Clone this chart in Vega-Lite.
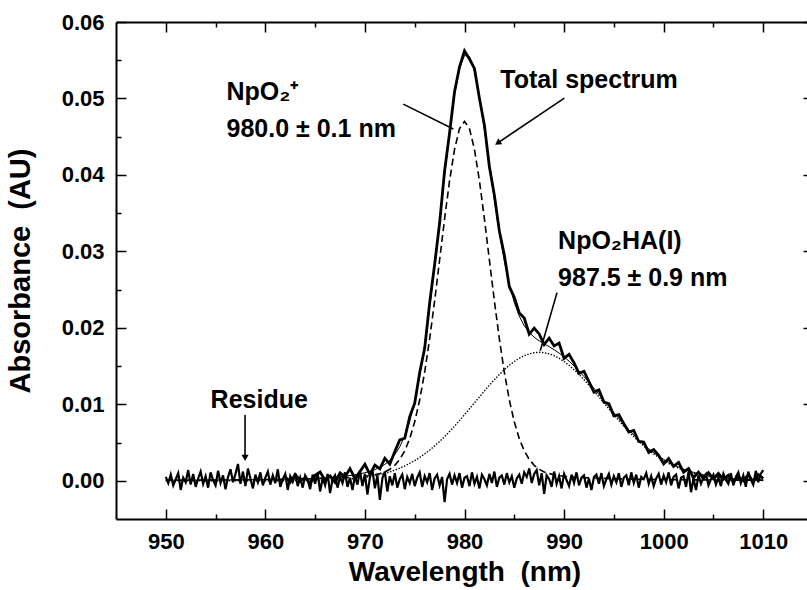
{
  "$schema": "https://vega.github.io/schema/vega-lite/v6.json",
  "width": 697,
  "height": 497,
  "autosize": "none",
  "padding": {"left": 116, "top": 22, "right": 0, "bottom": 71},
  "background": "white",
  "config": {
    "view": {"stroke": null},
    "axis": {
      "domainColor": "black", "domainWidth": 2, "tickColor": "black", "tickWidth": 1.5,
      "labelFont": "Liberation Sans", "labelFontSize": 22, "labelFontWeight": "bold", "labelColor": "black",
      "titleFont": "Liberation Sans", "titleFontSize": 28, "titleFontWeight": "bold", "titleColor": "black",
      "grid": false, "labelOverlap": false, "labelFlush": false, "labelBound": false
    }
  },
  "datasets": {
    "res": [
      {"w":950,"v":0.0005},{"w":950.25,"v":-0.0003},{"w":950.5,"v":0.0008},{"w":950.75,"v":-0.0006},
      {"w":951,"v":0.0002},{"w":951.25,"v":0.001},{"w":951.5,"v":-0.0012},{"w":951.75,"v":0.0004},
      {"w":952,"v":-0.0002},{"w":952.25,"v":0.0014},{"w":952.5,"v":-0.0005},{"w":952.75,"v":0.0009},
      {"w":953,"v":-0.0008},{"w":953.25,"v":0.0003},{"w":953.5,"v":0.0012},{"w":953.75,"v":-0.0004},
      {"w":954,"v":0.0006},{"w":954.25,"v":-0.0009},{"w":954.5,"v":0.0011},{"w":954.75,"v":0.0001},
      {"w":955,"v":-0.0006},{"w":955.25,"v":0.0013},{"w":955.5,"v":-0.0003},{"w":955.75,"v":0.0007},
      {"w":956,"v":-0.0011},{"w":956.25,"v":0.0005},{"w":956.5,"v":0.0015},{"w":956.75,"v":-0.0002},
      {"w":957,"v":0.0009},{"w":957.25,"v":0.0022},{"w":957.5,"v":-0.0004},{"w":957.75,"v":0.0012},
      {"w":958,"v":-0.0007},{"w":958.25,"v":0.0016},{"w":958.5,"v":0.0003},{"w":958.75,"v":-0.001},
      {"w":959,"v":0.0008},{"w":959.25,"v":-0.0002},{"w":959.5,"v":0.0011},{"w":959.75,"v":-0.0006},
      {"w":960,"v":0.0004},{"w":960.25,"v":0.0012},{"w":960.5,"v":-0.0005},{"w":960.75,"v":0.0007},
      {"w":961,"v":-0.0003},{"w":961.25,"v":0.0015},{"w":961.5,"v":-0.0008},{"w":961.75,"v":0.0002},
      {"w":962,"v":0.0009},{"w":962.25,"v":-0.0012},{"w":962.5,"v":0.0006},{"w":962.75,"v":-0.0001},
      {"w":963,"v":0.001},{"w":963.25,"v":-0.0007},{"w":963.5,"v":0.0004},{"w":963.75,"v":-0.0009},
      {"w":964,"v":0.0007},{"w":964.25,"v":0.0001},{"w":964.5,"v":-0.0011},{"w":964.75,"v":0.0008},
      {"w":965,"v":-0.0004},{"w":965.25,"v":0.001},{"w":965.5,"v":-0.0014},{"w":965.75,"v":0.0003},
      {"w":966,"v":-0.0006},{"w":966.25,"v":0.0009},{"w":966.5,"v":-0.0016},{"w":966.75,"v":0.0002},
      {"w":967,"v":0.0007},{"w":967.25,"v":-0.0009},{"w":967.5,"v":0.0005},{"w":967.75,"v":-0.0003},
      {"w":968,"v":0.0011},{"w":968.25,"v":-0.0008},{"w":968.5,"v":0.0004},{"w":968.75,"v":-0.0012},
      {"w":969,"v":0.0006},{"w":969.25,"v":-0.0005},{"w":969.5,"v":0.0013},{"w":969.75,"v":-0.0007},
      {"w":970,"v":0.0009},{"w":970.25,"v":-0.0018},{"w":970.5,"v":0.0004},{"w":970.75,"v":0.0015},
      {"w":971,"v":-0.001},{"w":971.25,"v":0.0007},{"w":971.5,"v":-0.0025},{"w":971.75,"v":0.0003},
      {"w":972,"v":0.0012},{"w":972.25,"v":-0.0014},{"w":972.5,"v":0.0006},{"w":972.75,"v":-0.0006},
      {"w":973,"v":0.001},{"w":973.25,"v":-0.0009},{"w":973.5,"v":0.0002},{"w":973.75,"v":0.0008},
      {"w":974,"v":-0.0011},{"w":974.25,"v":0.0005},{"w":974.5,"v":-0.0003},{"w":974.75,"v":0.0009},
      {"w":975,"v":-0.0007},{"w":975.25,"v":0.0004},{"w":975.5,"v":0.0011},{"w":975.75,"v":-0.0008},
      {"w":976,"v":0.0006},{"w":976.25,"v":-0.0002},{"w":976.5,"v":0.001},{"w":976.75,"v":-0.0012},
      {"w":977,"v":0.0003},{"w":977.25,"v":0.0008},{"w":977.5,"v":-0.0006},{"w":977.75,"v":0.0005},
      {"w":978,"v":-0.0028},{"w":978.25,"v":0.0002},{"w":978.5,"v":0.0009},{"w":978.75,"v":-0.0005},
      {"w":979,"v":0.0007},{"w":979.25,"v":-0.0003},{"w":979.5,"v":0.001},{"w":979.75,"v":-0.0009},
      {"w":980,"v":0.0004},{"w":980.25,"v":0.0006},{"w":980.5,"v":-0.0007},{"w":980.75,"v":0.0011},
      {"w":981,"v":-0.0004},{"w":981.25,"v":0.0005},{"w":981.5,"v":-0.001},{"w":981.75,"v":0.0008},
      {"w":982,"v":0.0002},{"w":982.25,"v":-0.0006},{"w":982.5,"v":0.0009},{"w":982.75,"v":-0.0003},
      {"w":983,"v":0.0012},{"w":983.25,"v":-0.0008},{"w":983.5,"v":0.0004},{"w":983.75,"v":0.0007},
      {"w":984,"v":-0.0005},{"w":984.25,"v":0.001},{"w":984.5,"v":-0.0002},{"w":984.75,"v":0.0006},
      {"w":985,"v":-0.0009},{"w":985.25,"v":0.0003},{"w":985.5,"v":0.0008},{"w":985.75,"v":-0.0004},
      {"w":986,"v":0.0011},{"w":986.25,"v":0.0005},{"w":986.5,"v":0.0016},{"w":986.75,"v":-0.0003},
      {"w":987,"v":0.0009},{"w":987.25,"v":0.0014},{"w":987.5,"v":-0.0006},{"w":987.75,"v":0.001},
      {"w":988,"v":-0.0017},{"w":988.25,"v":0.0007},{"w":988.5,"v":0.0002},{"w":988.75,"v":-0.0008},
      {"w":989,"v":0.0012},{"w":989.25,"v":-0.0004},{"w":989.5,"v":0.0006},{"w":989.75,"v":-0.001},
      {"w":990,"v":0.0009},{"w":990.25,"v":0.0001},{"w":990.5,"v":-0.0007},{"w":990.75,"v":0.0008},
      {"w":991,"v":-0.0003},{"w":991.25,"v":0.0011},{"w":991.5,"v":-0.0006},{"w":991.75,"v":0.0004},
      {"w":992,"v":0.0007},{"w":992.25,"v":-0.0009},{"w":992.5,"v":0.0003},{"w":992.75,"v":-0.0012},
      {"w":993,"v":0.0005},{"w":993.25,"v":0.0008},{"w":993.5,"v":-0.0004},{"w":993.75,"v":0.001},
      {"w":994,"v":-0.0007},{"w":994.25,"v":0.0002},{"w":994.5,"v":0.0009},{"w":994.75,"v":-0.0005},
      {"w":995,"v":0.0006},{"w":995.25,"v":-0.0002},{"w":995.5,"v":0.001},{"w":995.75,"v":-0.0008},
      {"w":996,"v":0.0004},{"w":996.25,"v":0.0007},{"w":996.5,"v":-0.0006},{"w":996.75,"v":0.0011},
      {"w":997,"v":-0.0003},{"w":997.25,"v":0.0008},{"w":997.5,"v":-0.0009},{"w":997.75,"v":0.0005},
      {"w":998,"v":0.0002},{"w":998.25,"v":0.001},{"w":998.5,"v":-0.0004},{"w":998.75,"v":0.0006},
      {"w":999,"v":-0.0007},{"w":999.25,"v":0.0003},{"w":999.5,"v":0.0009},{"w":999.75,"v":-0.0005},
      {"w":1000,"v":0.0007},{"w":1000.25,"v":-0.0002},{"w":1000.5,"v":0.0011},{"w":1000.75,"v":-0.0006},
      {"w":1001,"v":0.0005},{"w":1001.25,"v":0.0008},{"w":1001.5,"v":-0.001},{"w":1001.75,"v":0.0004},
      {"w":1002,"v":0.0006},{"w":1002.25,"v":-0.0008},{"w":1002.5,"v":0.0012},{"w":1002.75,"v":-0.0015},
      {"w":1003,"v":0.0003},{"w":1003.25,"v":-0.0012},{"w":1003.5,"v":0.0007},{"w":1003.75,"v":-0.0004},
      {"w":1004,"v":0.0005},{"w":1004.25,"v":0.0009},{"w":1004.5,"v":-0.0006},{"w":1004.75,"v":0.0002},
      {"w":1005,"v":0.0008},{"w":1005.25,"v":-0.0005},{"w":1005.5,"v":0.0004},{"w":1005.75,"v":-0.0007},
      {"w":1006,"v":0.0009},{"w":1006.25,"v":0.0001},{"w":1006.5,"v":-0.0004},{"w":1006.75,"v":0.001},
      {"w":1007,"v":-0.0006},{"w":1007.25,"v":0.0005},{"w":1007.5,"v":0.0011},{"w":1007.75,"v":-0.0003},
      {"w":1008,"v":0.0007},{"w":1008.25,"v":-0.0008},{"w":1008.5,"v":0.0012},{"w":1008.75,"v":0.0002},
      {"w":1009,"v":-0.0005},{"w":1009.25,"v":0.0013},{"w":1009.5,"v":-0.0002},{"w":1009.75,"v":0.0009},
      {"w":1010,"v":0.0014}
    ],
    "tot": [
      {"w":962,"v":0.0005},{"w":962.5,"v":-0.00019},{"w":963,"v":0.00082},{"w":963.5,"v":0.00004},
      {"w":964,"v":0.00036},{"w":964.5,"v":-0.00032},{"w":965,"v":0.00071},{"w":965.5,"v":0.00114},
      {"w":966,"v":0.00008},{"w":966.5,"v":0.00063},{"w":967,"v":-0.00022},{"w":967.5,"v":0.00104},
      {"w":968,"v":0.0005},{"w":968.5,"v":0.00159},{"w":969,"v":0.00028},{"w":969.5,"v":0.00121},
      {"w":970,"v":0.00215},{"w":970.5,"v":0.00083},{"w":971,"v":0.00205},{"w":971.5,"v":0.00155},
      {"w":972,"v":0.00294},{"w":972.5,"v":0.00217},{"w":973,"v":0.00382},{"w":973.5,"v":0.00534},
      {"w":974,"v":0.00556},{"w":974.5,"v":0.00839},{"w":975,"v":0.01015},{"w":975.5,"v":0.01415},
      {"w":976,"v":0.01732},{"w":976.5,"v":0.02327},{"w":977,"v":0.02828},{"w":977.5,"v":0.03371},
      {"w":978,"v":0.04052},{"w":978.5,"v":0.04548},{"w":979,"v":0.05088},{"w":979.5,"v":0.05413},
      {"w":980,"v":0.05623},{"w":980.5,"v":0.05516},{"w":981,"v":0.05393},{"w":981.5,"v":0.05001},
      {"w":982,"v":0.04649},{"w":982.5,"v":0.04107},{"w":983,"v":0.03734},{"w":983.5,"v":0.03266},
      {"w":984,"v":0.02954},{"w":984.5,"v":0.02539},{"w":985,"v":0.02401},{"w":985.5,"v":0.02194},
      {"w":986,"v":0.02128},{"w":986.5,"v":0.01919},{"w":987,"v":0.01997},{"w":987.5,"v":0.0192},
      {"w":988,"v":0.01781},{"w":988.5,"v":0.01864},{"w":989,"v":0.01764},{"w":989.5,"v":0.018},
      {"w":990,"v":0.016},{"w":990.5,"v":0.01654},{"w":991,"v":0.01542},{"w":991.5,"v":0.01405},
      {"w":992,"v":0.01433},{"w":992.5,"v":0.01298},{"w":993,"v":0.0116},{"w":993.5,"v":0.0119},
      {"w":994,"v":0.0103},{"w":994.5,"v":0.0101},{"w":995,"v":0.0085},{"w":995.5,"v":0.00864},
      {"w":996,"v":0.00748},{"w":996.5,"v":0.00637},{"w":997,"v":0.00658},{"w":997.5,"v":0.00514},
      {"w":998,"v":0.00505},{"w":998.5,"v":0.00369},{"w":999,"v":0.00408},{"w":999.5,"v":0.00332},
      {"w":1000,"v":0.0022},{"w":1000.5,"v":0.00292},{"w":1001,"v":0.00188},{"w":1001.5,"v":0.00239},
      {"w":1002,"v":0.00113},{"w":1002.5,"v":0.0016},{"w":1003,"v":0.0004},{"w":1003.5,"v":0.00113},
      {"w":1004,"v":0.00028},{"w":1004.5,"v":0.00106},{"w":1005,"v":0.00025},{"w":1005.5,"v":0.00097},
      {"w":1006,"v":0.00019},{"w":1006.5,"v":0.00073},{"w":1007,"v":-0.00012},{"w":1007.5,"v":0.00054},
      {"w":1008,"v":0},{"w":1008.5,"v":0.00077},{"w":1009,"v":-0.00015},{"w":1009.5,"v":0.00083},
      {"w":1010,"v":0.00031}
    ],
    "c1": [
      {"w":950,"v":0.00007},{"w":952,"v":0.00008},{"w":954,"v":0.00009},{"w":956,"v":0.00011},
      {"w":958,"v":0.00013},{"w":960,"v":0.00016},{"w":962,"v":0.00019},{"w":963,"v":0.00021},
      {"w":964,"v":0.00024},{"w":965,"v":0.00027},{"w":966,"v":0.00031},{"w":967,"v":0.00036},
      {"w":968,"v":0.00041},{"w":969,"v":0.00049},{"w":970,"v":0.0006},{"w":970.5,"v":0.00068},
      {"w":971,"v":0.00078},{"w":971.5,"v":0.00094},{"w":972,"v":0.00116},{"w":972.5,"v":0.0015},
      {"w":973,"v":0.00202},{"w":973.5,"v":0.00279},{"w":974,"v":0.00392},{"w":974.5,"v":0.00552},
      {"w":975,"v":0.00771},{"w":975.5,"v":0.01059},{"w":976,"v":0.01421},{"w":976.5,"v":0.01856},
      {"w":977,"v":0.02352},{"w":977.5,"v":0.02887},{"w":978,"v":0.03425},{"w":978.5,"v":0.03924},
      {"w":979,"v":0.04334},{"w":979.5,"v":0.04605},{"w":980,"v":0.047},{"w":980.5,"v":0.04605},
      {"w":981,"v":0.04334},{"w":981.5,"v":0.03924},{"w":982,"v":0.03425},{"w":982.5,"v":0.02887},
      {"w":983,"v":0.02352},{"w":983.5,"v":0.01856},{"w":984,"v":0.01421},{"w":984.5,"v":0.01059},
      {"w":985,"v":0.00771},{"w":985.5,"v":0.00552},{"w":986,"v":0.00392},{"w":986.5,"v":0.00279},
      {"w":987,"v":0.00202},{"w":987.5,"v":0.0015},{"w":988,"v":0.00116},{"w":988.5,"v":0.00094},
      {"w":989,"v":0.00078},{"w":989.5,"v":0.00068},{"w":990,"v":0.0006},{"w":991,"v":0.00049},
      {"w":992,"v":0.00041},{"w":993,"v":0.00036},{"w":994,"v":0.00031},{"w":995,"v":0.00027},
      {"w":996,"v":0.00024},{"w":998,"v":0.00019},{"w":1000,"v":0.00016},{"w":1003,"v":0.00012},
      {"w":1006,"v":0.0001},{"w":1010,"v":0.00007}
    ],
    "c2": [
      {"w":950,"v":0},{"w":960,"v":0},{"w":964,"v":0.00002},{"w":966,"v":0.00007},{"w":968,"v":0.00019},
      {"w":969,"v":0.00029},{"w":970,"v":0.00045},{"w":970.5,"v":0.00055},{"w":971,"v":0.00067},
      {"w":971.5,"v":0.00081},{"w":972,"v":0.00098},{"w":972.5,"v":0.00117},{"w":973,"v":0.0014},
      {"w":973.5,"v":0.00165},{"w":974,"v":0.00194},{"w":974.5,"v":0.00227},{"w":975,"v":0.00264},
      {"w":975.5,"v":0.00306},{"w":976,"v":0.00351},{"w":976.5,"v":0.00401},{"w":977,"v":0.00456},
      {"w":977.5,"v":0.00514},{"w":978,"v":0.00577},{"w":978.5,"v":0.00644},{"w":979,"v":0.00714},
      {"w":979.5,"v":0.00788},{"w":980,"v":0.00863},{"w":980.5,"v":0.00941},{"w":981,"v":0.01019},
      {"w":981.5,"v":0.01097},{"w":982,"v":0.01174},{"w":982.5,"v":0.0125},{"w":983,"v":0.01322},
      {"w":983.5,"v":0.0139},{"w":984,"v":0.01453},{"w":984.5,"v":0.0151},{"w":985,"v":0.0156},
      {"w":985.5,"v":0.01602},{"w":986,"v":0.01636},{"w":986.5,"v":0.0166},{"w":987,"v":0.01675},
      {"w":987.5,"v":0.0168},{"w":988,"v":0.01675},{"w":988.5,"v":0.0166},{"w":989,"v":0.01636},
      {"w":989.5,"v":0.01602},{"w":990,"v":0.0156},{"w":990.5,"v":0.0151},{"w":991,"v":0.01453},
      {"w":991.5,"v":0.0139},{"w":992,"v":0.01322},{"w":992.5,"v":0.0125},{"w":993,"v":0.01174},
      {"w":993.5,"v":0.01097},{"w":994,"v":0.01019},{"w":994.5,"v":0.00941},{"w":995,"v":0.00863},
      {"w":995.5,"v":0.00788},{"w":996,"v":0.00714},{"w":996.5,"v":0.00644},{"w":997,"v":0.00577},
      {"w":997.5,"v":0.00514},{"w":998,"v":0.00456},{"w":998.5,"v":0.00401},{"w":999,"v":0.00351},
      {"w":999.5,"v":0.00306},{"w":1000,"v":0.00264},{"w":1000.5,"v":0.00227},{"w":1001,"v":0.00194},
      {"w":1001.5,"v":0.00165},{"w":1002,"v":0.0014},{"w":1002.5,"v":0.00117},{"w":1003,"v":0.00098},
      {"w":1003.5,"v":0.00081},{"w":1004,"v":0.00067},{"w":1004.5,"v":0.00055},{"w":1005,"v":0.00045},
      {"w":1006,"v":0.00029},{"w":1007,"v":0.00019},{"w":1008,"v":0.00012},{"w":1009,"v":0.00007},
      {"w":1010,"v":0.00004}
    ],
    "fit": [
      {"w":950,"v":0.00007},{"w":954,"v":0.00009},{"w":958,"v":0.00013},{"w":962,"v":0.0002},
      {"w":964,"v":0.00026},{"w":966,"v":0.00038},{"w":968,"v":0.0006},{"w":969,"v":0.00078},
      {"w":970,"v":0.00105},{"w":970.5,"v":0.00123},{"w":971,"v":0.00145},{"w":971.5,"v":0.00175},
      {"w":972,"v":0.00214},{"w":972.5,"v":0.00267},{"w":973,"v":0.00342},{"w":973.5,"v":0.00444},
      {"w":974,"v":0.00586},{"w":974.5,"v":0.00779},{"w":975,"v":0.01035},{"w":975.5,"v":0.01365},
      {"w":976,"v":0.01772},{"w":976.5,"v":0.02257},{"w":977,"v":0.02808},{"w":977.5,"v":0.03401},
      {"w":978,"v":0.04002},{"w":978.5,"v":0.04568},{"w":979,"v":0.05048},{"w":979.5,"v":0.05393},
      {"w":980,"v":0.05563},{"w":980.5,"v":0.05546},{"w":981,"v":0.05353},{"w":981.5,"v":0.05021},
      {"w":982,"v":0.04599},{"w":982.5,"v":0.04137},{"w":983,"v":0.03674},{"w":983.5,"v":0.03246},
      {"w":984,"v":0.02874},{"w":984.5,"v":0.02569},{"w":985,"v":0.02331},{"w":985.5,"v":0.02154},
      {"w":986,"v":0.02028},{"w":986.5,"v":0.01939},{"w":987,"v":0.01877},{"w":987.5,"v":0.0183},
      {"w":988,"v":0.01791},{"w":988.5,"v":0.01754},{"w":989,"v":0.01714},{"w":989.5,"v":0.0167},
      {"w":990,"v":0.0162},{"w":990.5,"v":0.01564},{"w":991,"v":0.01502},{"w":991.5,"v":0.01435},
      {"w":992,"v":0.01363},{"w":992.5,"v":0.01288},{"w":993,"v":0.0121},{"w":993.5,"v":0.0113},
      {"w":994,"v":0.0105},{"w":994.5,"v":0.0097},{"w":995,"v":0.0089},{"w":995.5,"v":0.00814},
      {"w":996,"v":0.00738},{"w":996.5,"v":0.00667},{"w":997,"v":0.00598},{"w":997.5,"v":0.00534},
      {"w":998,"v":0.00475},{"w":998.5,"v":0.00419},{"w":999,"v":0.00368},{"w":999.5,"v":0.00322},
      {"w":1000,"v":0.0028},{"w":1000.5,"v":0.00242},{"w":1001,"v":0.00208},{"w":1001.5,"v":0.00179},
      {"w":1002,"v":0.00153},{"w":1002.5,"v":0.0013},{"w":1003,"v":0.0011},{"w":1003.5,"v":0.00093},
      {"w":1004,"v":0.00078},{"w":1004.5,"v":0.00066},{"w":1005,"v":0.00055},{"w":1006,"v":0.00039},
      {"w":1007,"v":0.00028},{"w":1008,"v":0.0002},{"w":1009,"v":0.00015},{"w":1010,"v":0.00011}
    ],
    "ann": [
      {"w":956.1,"v":0.0498,"t":"NpO₂⁺"},
      {"w":956.1,"v":0.0450,"t":"980.0 ± 0.1 nm"},
      {"w":983.6,"v":0.05135,"t":"Total spectrum"},
      {"w":989.4,"v":0.03026,"t":"NpO₂HA(I)"},
      {"w":989.4,"v":0.02543,"t":"987.5 ± 0.9 nm"},
      {"w":954.5,"v":0.00948,"t":"Residue"}
    ],
    "arrows": [
      {"w":973.85,"v":0.04926,"w2":978.88,"v2":0.046},
      {"w":990.03,"v":0.05005,"w2":983.42,"v2":0.04425},
      {"w":989.29,"v":0.02461,"w2":987.61,"v2":0.017},
      {"w":957.96,"v":0.0086,"w2":957.96,"v2":0.0031}
    ],
    "headTotal": [{"w":983.42,"v":0.04425}],
    "headRes": [{"w":957.96,"v":0.00313}],
    "frame": [{"w":950,"v":0}]
  },
  "layer": [
    {
      "encoding": {
        "x": {"field": "w", "type": "quantitative",
          "scale": {"domain": [945, 1015], "nice": false, "zero": false},
          "axis": {"orient": "bottom", "title": "Wavelength \u00a0(nm)", "titlePadding": 1, "format": "d",
            "values": [950,955,960,965,970,975,980,985,990,995,1000,1005,1010],
            "labelExpr": "round(datum.value) % 10 == 0 ? datum.label : ''",
            "tickSize": {"condition": {"test": "round(datum.value) % 10 == 0", "value": -10}, "value": -5},
            "labelPadding": 22}},
        "y": {"field": "v", "type": "quantitative",
          "scale": {"domain": [-0.005, 0.06], "nice": false, "zero": false},
          "axis": {"orient": "left", "title": "Absorbance \u00a0(AU)", "titlePadding": 26, "titleFontSize": 29, "format": ".2f",
            "values": [0,0.005,0.01,0.015,0.02,0.025,0.03,0.035,0.04,0.045,0.05,0.055,0.06],
            "labelExpr": "round(datum.value*200) % 2 == 0 ? datum.label : ''",
            "tickSize": {"condition": {"test": "round(datum.value*200) % 2 == 0", "value": -10}, "value": -5},
            "labelPadding": 22}}
      },
      "layer": [
        {"data": {"name": "res"}, "mark": {"type": "line", "color": "black", "strokeWidth": 2.2}},
        {"data": {"name": "fit"}, "mark": {"type": "line", "color": "black", "strokeWidth": 1}},
        {"data": {"name": "c1"}, "mark": {"type": "line", "color": "black", "strokeWidth": 1.6, "strokeDash": [7, 4]}},
        {"data": {"name": "c2"}, "mark": {"type": "line", "color": "black", "strokeWidth": 1.4, "strokeDash": [1.4, 1.6]}},
        {"data": {"name": "tot"}, "mark": {"type": "line", "color": "black", "strokeWidth": 2.8}},
        {"data": {"name": "arrows"}, "mark": {"type": "rule", "color": "black", "strokeWidth": 1.6},
          "encoding": {"x2": {"field": "w2"}, "y2": {"field": "v2"}}},
        {"data": {"name": "headTotal"}, "mark": {"type": "point", "shape": "triangle", "filled": true, "color": "black", "opacity": 1, "size": 50, "angle": 236}},
        {"data": {"name": "headRes"}, "mark": {"type": "point", "shape": "triangle", "filled": true, "color": "black", "opacity": 1, "size": 50, "angle": 180}},
        {"data": {"name": "ann"}, "mark": {"type": "text", "align": "left", "baseline": "alphabetic", "font": "Liberation Sans", "fontSize": 25, "fontWeight": "bold", "color": "black"},
          "encoding": {"text": {"field": "t"}}}
      ]
    },
    {
      "data": {"name": "frame"},
      "mark": {"type": "point", "opacity": 0},
      "encoding": {
        "x": {"field": "w", "type": "quantitative",
          "scale": {"domain": [945, 1015], "nice": false, "zero": false},
          "axis": {"orient": "top", "title": null, "labels": false,
            "values": [950,955,960,965,970,975,980,985,990,995,1000,1005,1010],
            "tickSize": {"condition": {"test": "round(datum.value) % 10 == 0", "value": -10}, "value": -5}}},
        "y": {"field": "v", "type": "quantitative",
          "scale": {"domain": [-0.005, 0.06], "nice": false, "zero": false},
          "axis": {"orient": "right", "title": null, "labels": false,
            "values": [0,0.005,0.01,0.015,0.02,0.025,0.03,0.035,0.04,0.045,0.05,0.055,0.06],
            "tickSize": {"condition": {"test": "round(datum.value*200) % 2 == 0", "value": -10}, "value": -5}}}
      }
    }
  ],
  "resolve": {"axis": {"x": "independent", "y": "independent"}}
}
